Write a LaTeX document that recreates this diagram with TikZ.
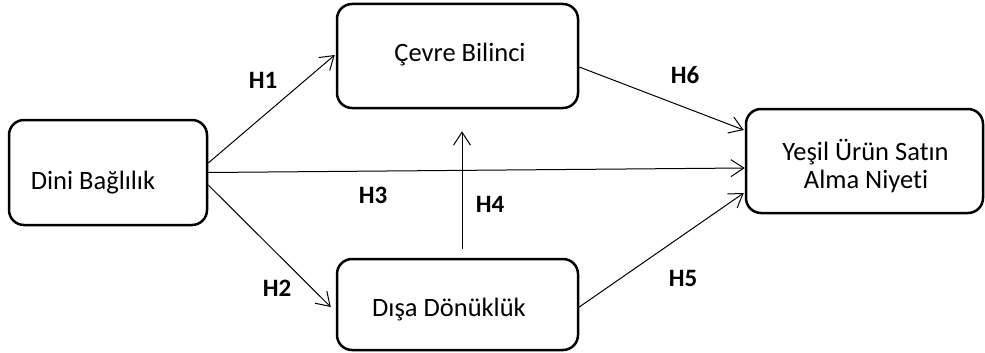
\documentclass[tikz,border=0pt]{standalone}
\usepackage{fontspec}
\setmainfont{Carlito}[Ligatures=NoCommon]
\usetikzlibrary{arrows.meta,calc}
\begin{document}
\begin{tikzpicture}[x=1pt,y=-1pt,
  box/.style={draw=black,line width=2.5pt,rounded corners=15pt,fill=white,inner sep=0pt},
  boxtext/.style={font=\fontsize{26.5}{28}\selectfont,anchor=base,inner sep=0pt,align=center},
  hyp/.style={font=\fontsize{25}{27}\selectfont\bfseries,inner sep=0pt},
  link/.style={line width=1pt,-{Straight Barb[length=13pt,width=17pt,line width=1pt]}}]
\useasboundingbox (0,0) rectangle (985,353);
% boxes
\node[box,minimum width=198pt,minimum height=105pt] (dini) at (108,172.5) {};
\node[box,minimum width=241pt,minimum height=104pt] (cevre) at (457.5,56) {};
\node[box,minimum width=241pt,minimum height=91pt] (disa) at (457.5,304.5) {};
\node[box,minimum width=237pt,minimum height=104pt] (yesil) at (864.5,161) {};
% texts
\node[boxtext] (tdini) at (93,189) {Dini Bağlılık};
\node[boxtext] (tcevre) at (460,62) {Çevre Bilinci};
\node[boxtext] (tdisa) at (449,316) {Dışa Dönüklük};
\node[boxtext] (tyesil1) at (865.5,160) {Yeşil Ürün Satın};
\node[boxtext] (tyesil2) at (866,188) {Alma Niyeti};
% connector ends
\coordinate (h4s) at ($(disa.north)+(4.5,-9)$);
\coordinate (h4e) at ($(cevre.south)+(4.5,22)$);
% connectors
\draw[link] ($(dini.east)+(0,-9.5)$) -- ($(cevre.west)+(-1,-1)$);
\draw[link] (dini.east) -- ($(yesil.west)+(0,7)$);
\draw[link] ($(dini.east)+(0,12.5)$) -- ($(disa.west)+(-5,2.5)$);
\draw[link] ($(cevre.east)+(0,11)$) -- ($(yesil.west)+(-1,-31)$);
\draw[link] ($(disa.east)+(0,2.5)$) -- ($(yesil.west)+(-1,32)$);
\draw[link] (h4s) -- (h4e);
% labels
\node[hyp] (l1) at (263,80) {H1};
\node[hyp] (l2) at (277,288) {H2};
\node[hyp] (l3) at (373,195) {H3};
\node[hyp] (l4) at (490,204) {H4};
\node[hyp] (l5) at (683,278) {H5};
\node[hyp] (l6) at (685,75) {H6};
\end{tikzpicture}
\end{document}
